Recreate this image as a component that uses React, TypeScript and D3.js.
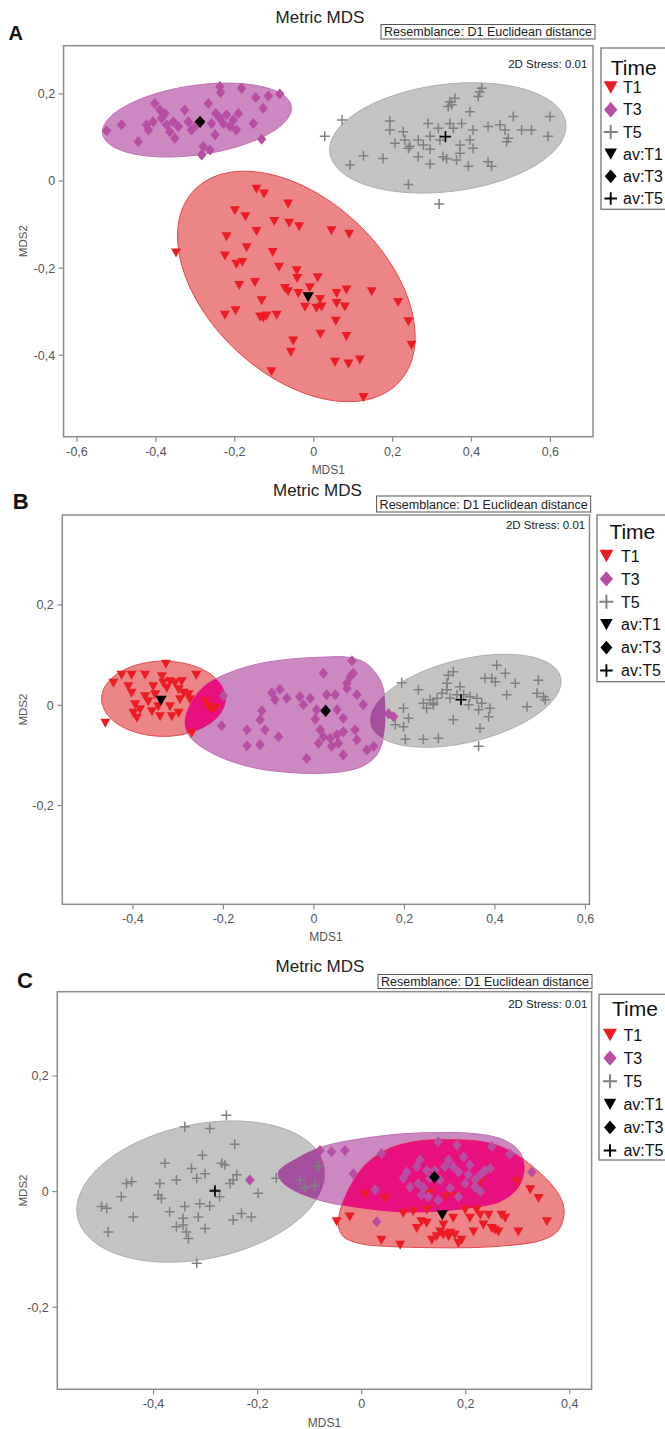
import React from 'react';
import * as d3 from 'd3';

type Pt = [number, number];

// ---------------- Panel A data ----------------
const A_T1: Pt[] = [
  [-0.349,-0.165],[-0.145,-0.019],[-0.126,-0.030],[-0.065,-0.053],[-0.200,-0.068],[-0.173,-0.082],[-0.100,-0.093],[-0.062,-0.097],[-0.037,-0.105],[-0.221,-0.128],[-0.145,-0.116],[0.045,-0.114],[0.090,-0.122],[-0.225,-0.172],[-0.170,-0.153],[-0.104,-0.164],[-0.196,-0.191],[-0.181,-0.187],[-0.088,-0.198],[-0.043,-0.206],[-0.042,-0.224],[0.010,-0.222],[-0.189,-0.240],[-0.149,-0.233],[-0.073,-0.247],[-0.065,-0.254],[-0.039,-0.258],[-0.010,-0.245],[0.058,-0.258],[0.083,-0.250],[0.147,-0.254],[-0.132,-0.275],[-0.225,-0.308],[-0.198,-0.298],[-0.136,-0.312],[-0.128,-0.315],[-0.120,-0.310],[-0.094,-0.308],[-0.022,-0.290],[0.007,-0.292],[0.016,-0.272],[0.020,-0.289],[0.058,-0.281],[0.079,-0.289],[0.214,-0.279],[0.240,-0.323],[0.056,-0.322],[-0.052,-0.367],[-0.058,-0.393],[0.017,-0.352],[0.083,-0.357],[0.054,-0.416],[0.088,-0.420],[0.117,-0.411],[-0.107,-0.438],[0.248,-0.377],[0.126,-0.497]
];
const A_T3: Pt[] = [
  [-0.525,0.116],[-0.487,0.129],[-0.445,0.090],[-0.419,0.117],[-0.407,0.136],[-0.403,0.178],[-0.390,0.163],[-0.377,0.155],[-0.373,0.129],[-0.365,0.113],[-0.352,0.098],[-0.343,0.125],[-0.327,0.163],[-0.318,0.136],[-0.310,0.117],[-0.280,0.079],[-0.284,0.060],[-0.267,0.178],[-0.263,0.071],[-0.250,0.106],[-0.248,0.155],[-0.238,0.144],[-0.229,0.132],[-0.221,0.152],[-0.212,0.125],[-0.204,0.140],[-0.196,0.117],[-0.191,0.155],[-0.183,0.213],[-0.238,0.217],[-0.236,0.203],[-0.153,0.132],[-0.147,0.192],[-0.128,0.167],[-0.132,0.096],[-0.115,0.195],[-0.086,0.200],[-0.356,0.136],[-0.424,0.129],[-0.297,0.129],[-0.259,0.132],[-0.386,0.144]
];
const A_T5: Pt[] = [
  [0.028,0.103],[0.072,0.140],[0.126,0.058],[0.092,0.037],[0.176,0.052],[0.240,-0.008],[0.318,-0.053],[0.193,0.138],[0.193,0.117],[0.227,0.113],[0.231,0.094],[0.206,0.087],[0.240,0.075],[0.244,0.080],[0.265,0.094],[0.265,0.056],[0.278,0.083],[0.295,0.073],[0.290,0.132],[0.295,0.103],[0.295,0.039],[0.316,0.121],[0.320,0.094],[0.328,0.056],[0.337,0.051],[0.345,0.132],[0.354,0.121],[0.345,0.182],[0.350,0.175],[0.341,0.171],[0.358,0.190],[0.362,0.048],[0.371,0.064],[0.371,0.083],[0.375,0.132],[0.396,0.159],[0.396,0.094],[0.404,0.117],[0.404,0.075],[0.392,0.034],[0.421,0.205],[0.426,0.213],[0.417,0.194],[0.442,0.125],[0.442,0.044],[0.451,0.034],[0.472,0.129],[0.485,0.117],[0.493,0.098],[0.489,0.090],[0.506,0.148],[0.527,0.117],[0.552,0.117],[0.599,0.148],[0.594,0.103]
];
const A_AVG_T1: Pt = [-0.014, -0.267];
const A_AVG_T3: Pt = [-0.288, 0.136];
const A_AVG_T5: Pt = [0.334, 0.102];
// ellipse: centre x, centre y, semi-axis vector u (x,y), semi-axis vector v (x,y)
const A_ELL_T1 = [-0.044, -0.242, 0.260, -0.220, -0.152, -0.147];
const A_ELL_T3 = [-0.296, 0.140, 0.239, 0.031, 0.012, -0.079];
const A_ELL_T5 = [0.340, 0.099, 0.299, 0.034, 0.017, -0.122];
const A_XTICKS = [-0.6, -0.4, -0.2, 0, 0.2, 0.4, 0.6];
const A_YTICKS = [-0.4, -0.2, 0, 0.2];

// ---------------- Panel B data ----------------
const B_T1: Pt[] = [
  [-0.461,-0.036],[-0.443,0.044],[-0.425,0.060],[-0.403,0.060],[-0.410,0.037],[-0.403,0.024],[-0.395,0.001],[-0.399,-0.016],[-0.391,-0.026],[-0.384,-0.009],[-0.373,0.060],[-0.373,0.017],[-0.366,0.007],[-0.351,0.021],[-0.344,-0.003],[-0.340,-0.023],[-0.336,0.057],[-0.333,0.044],[-0.325,0.034],[-0.318,0.047],[-0.318,-0.003],[-0.314,-0.023],[-0.307,0.044],[-0.299,0.031],[-0.296,0.011],[-0.299,-0.016],[-0.292,0.047],[-0.288,0.024],[-0.277,0.021],[-0.274,0.011],[-0.260,0.060],[-0.327,0.082],[-0.240,0.007],[-0.233,-0.003],[-0.226,-0.009],[-0.218,-0.006],[-0.270,-0.056],[-0.355,0.037],[-0.358,-0.013]
];
const B_T3: Pt[] = [
  [-0.200,0.019],[-0.204,-0.041],[-0.115,-0.011],[-0.119,-0.029],[-0.148,-0.049],[-0.108,-0.049],[-0.148,-0.081],[-0.119,-0.079],[-0.078,-0.063],[-0.093,0.025],[-0.075,0.032],[-0.086,0.011],[-0.060,0.014],[-0.031,0.017],[-0.023,0.001],[-0.008,0.014],[0.006,-0.009],[0.003,-0.028],[0.014,-0.049],[0.021,-0.063],[0.010,-0.076],[0.021,0.064],[0.028,0.021],[0.047,0.021],[0.051,-0.009],[0.051,-0.059],[0.065,-0.053],[0.054,-0.076],[0.039,-0.082],[0.065,-0.099],[-0.016,-0.106],[0.073,0.044],[0.080,0.057],[0.087,0.064],[0.073,0.034],[0.084,0.089],[0.095,0.021],[0.109,0.001],[0.091,-0.049],[0.095,-0.069],[0.117,-0.089],[0.132,-0.082],[0.065,-0.026],[0.036,-0.066],[0.165,-0.017],[0.176,-0.023]
];
const B_T5: Pt[] = [
  [0.194,0.045],[0.198,-0.006],[0.180,-0.039],[0.198,-0.043],[0.202,-0.068],[0.209,-0.026],[0.231,0.031],[0.242,0.004],[0.242,-0.068],[0.249,-0.006],[0.257,0.011],[0.264,0.004],[0.272,0.014],[0.275,-0.066],[0.283,0.024],[0.294,0.031],[0.294,0.044],[0.297,0.060],[0.308,0.067],[0.308,-0.029],[0.301,0.014],[0.316,0.021],[0.323,0.037],[0.342,0.001],[0.345,0.017],[0.360,0.014],[0.364,-0.009],[0.367,-0.046],[0.364,-0.082],[0.371,0.004],[0.378,0.054],[0.386,-0.023],[0.389,-0.006],[0.393,0.054],[0.401,0.047],[0.404,0.080],[0.423,0.064],[0.426,0.021],[0.445,0.044],[0.471,-0.003],[0.493,0.024],[0.496,0.050],[0.507,0.017],[0.511,0.011],[0.264,0.001],[0.331,0.021]
];
const B_AVG_T1: Pt = [-0.338, 0.009];
const B_AVG_T3: Pt = [0.026, -0.011];
const B_AVG_T5: Pt = [0.325, 0.011];
const B_ELL_T1 = [-0.332, 0.013, 0.137, 0, 0, -0.075];
const B_OUT_T3: Pt[] = [
  [-0.274,0.001],[-0.244,0.037],[-0.200,0.060],[-0.126,0.082],[-0.053,0.092],[0.021,0.096],[0.073,0.096],[0.113,0.085],[0.140,0.060],[0.154,0.031],[0.158,-0.016],[0.154,-0.063],[0.139,-0.099],[0.109,-0.121],[0.065,-0.132],[0.006,-0.136],[-0.053,-0.134],[-0.126,-0.126],[-0.200,-0.106],[-0.252,-0.081],[-0.277,-0.059],[-0.285,-0.033]
];
const B_ELL_T5 = [0.335, 0.009, 0.210, 0.047, 0.022, -0.080];
const B_XTICKS = [-0.4, -0.2, 0, 0.2, 0.4, 0.6];
const B_YTICKS = [-0.2, 0, 0.2];

// ---------------- Panel C data ----------------
const C_T1: Pt[] = [
  [-0.048,-0.052],[-0.023,-0.044],[0.006,-0.006],[0.045,-0.012],[0.038,-0.084],[0.074,-0.093],[0.099,-0.035],[0.106,-0.064],[0.115,-0.052],[0.125,-0.055],[0.131,-0.003],[0.135,-0.084],[0.144,-0.078],[0.151,-0.070],[0.157,-0.075],[0.163,-0.009],[0.167,-0.078],[0.170,-0.072],[0.179,-0.075],[0.183,-0.009],[0.186,-0.090],[0.192,-0.084],[0.208,-0.046],[0.215,-0.070],[0.221,-0.032],[0.228,-0.041],[0.234,-0.058],[0.244,-0.041],[0.250,-0.064],[0.256,-0.067],[0.263,-0.070],[0.269,-0.041],[0.276,-0.046],[0.301,-0.070],[0.298,0.017],[0.324,0.003],[0.340,-0.012],[0.356,-0.052],[0.228,0.017],[0.199,-0.032],[0.125,-0.032],[0.080,-0.038],[0.176,-0.046],[0.157,-0.058]
];
const C_T3: Pt[] = [
  [-0.215,0.020],[-0.080,0.071],[-0.058,0.069],[-0.032,0.071],[-0.016,0.031],[0.038,0.066],[0.026,0.003],[0.029,-0.052],[0.147,0.086],[0.183,0.080],[0.250,0.078],[0.285,0.065],[0.327,0.034],[0.112,0.055],[0.106,0.043],[0.087,0.034],[0.080,0.023],[0.093,0.008],[0.109,0.014],[0.119,0.006],[0.131,0.023],[0.125,0.037],[0.141,0.037],[0.151,0.020],[0.160,0.043],[0.167,0.055],[0.176,0.043],[0.186,0.034],[0.196,0.060],[0.208,0.046],[0.205,0.029],[0.199,0.014],[0.218,0.020],[0.228,0.029],[0.237,0.037],[0.247,0.040],[0.218,0.008],[0.186,-0.009],[0.147,-0.015],[0.128,-0.009],[0.115,-0.006],[0.170,0.006],[0.228,0.000]
];
const C_T5: Pt[] = [
  [-0.260,0.132],[-0.340,0.112],[-0.292,0.109],[-0.244,0.082],[-0.306,0.063],[-0.378,0.049],[-0.327,0.040],[-0.301,0.031],[-0.317,0.023],[-0.356,0.020],[-0.269,0.049],[-0.263,0.046],[-0.240,0.029],[-0.247,0.020],[-0.253,0.014],[-0.442,0.017],[-0.452,0.014],[-0.388,0.014],[-0.391,-0.006],[-0.385,-0.012],[-0.462,-0.009],[-0.282,0.003],[-0.273,-0.009],[-0.340,-0.026],[-0.311,-0.021],[-0.292,-0.025],[-0.369,-0.035],[-0.500,-0.026],[-0.490,-0.029],[-0.439,-0.044],[-0.343,-0.046],[-0.314,-0.044],[-0.343,-0.058],[-0.301,-0.064],[-0.356,-0.061],[-0.337,-0.070],[-0.333,-0.081],[-0.247,-0.049],[-0.231,-0.038],[-0.212,-0.044],[-0.199,-0.003],[-0.487,-0.070],[-0.164,0.023],[-0.119,0.020],[-0.083,0.044],[-0.109,0.007],[-0.090,0.010],[-0.317,-0.124]
];
const C_AVG_T1: Pt = [0.155, -0.041];
const C_AVG_T3: Pt = [0.140, 0.025];
const C_AVG_T5: Pt = [-0.282, 0.001];
const C_ELL_T5 = [-0.309, 0.000, 0.237, 0.044, 0.026, -0.114];
const C_OUT_T3: Pt[] = [
  [-0.160,0.034],[-0.125,0.057],[-0.074,0.078],[0.003,0.092],[0.080,0.100],[0.144,0.102],[0.208,0.101],[0.266,0.092],[0.298,0.075],[0.312,0.052],[0.311,0.026],[0.298,0.003],[0.266,-0.018],[0.208,-0.029],[0.144,-0.035],[0.080,-0.036],[0.016,-0.031],[-0.048,-0.022],[-0.099,-0.010],[-0.138,0.006],[-0.156,0.020]
];
const C_OUT_T1: Pt[] = [
  [-0.045,-0.058],[-0.039,-0.026],[-0.019,0.014],[0.010,0.049],[0.054,0.075],[0.112,0.088],[0.176,0.090],[0.234,0.086],[0.272,0.076],[0.304,0.060],[0.337,0.037],[0.369,0.008],[0.387,-0.021],[0.388,-0.046],[0.375,-0.070],[0.343,-0.085],[0.285,-0.093],[0.208,-0.097],[0.131,-0.097],[0.054,-0.095],[-0.003,-0.090],[-0.035,-0.078]
];
const C_XTICKS = [-0.4, -0.2, 0, 0.2, 0.4];
const C_YTICKS = [-0.2, 0, 0.2];

// ---------------- shared labels ----------------
const GROUPS = ['T1', 'T3', 'T5'];
const LEGEND_TITLE = 'Time';
const LEGEND_LABELS = ['T1', 'T3', 'T5', 'av:T1', 'av:T3', 'av:T5'];
const TITLE = 'Metric MDS';
const RESEMBLANCE = 'Resemblance: D1 Euclidean distance';
const STRESS = '2D Stress: 0.01';

// ---------------- styles ----------------
const FONT = '"Liberation Sans", Arial, sans-serif';
const COL = {
  T1: '#ed1c24', T3: '#b64fa3', T5: '#808080',
  fillT1: '#ec8585', fillT3: '#cc88c0', fillT5: '#c3c3c3',
  strokeT1: '#e0474b', strokeT3: '#bf70b3', strokeT5: '#adadad',
  pink: '#e8117f', darkPurple: '#a44f9e',
};

type Region = { key: string; ell?: number[]; out?: Pt[]; fill: string; stroke: string };
type Overlap = { a: string; b: string; fill: string };
type Leg = { x: number; y: number; bottom: number; mx: number; tx: number; timeX: number; timeY: number; row0: number; step: number };
type PanelCfg = {
  label: string; letter: { x: number; y: number; size: number };
  frame: { l: number; r: number; t: number; b: number };
  xDom: [number, number]; yDom: [number, number];
  xTicks: number[]; yTicks: number[];
  title: { x: number; y: number };
  res: { x0: number; x1: number; y0: number; y1: number; base: number };
  stress: { x: number; y: number };
  mds1Y: number;
  legend: Leg;
  regions: Region[];
  overlaps: Overlap[];
  series: { key: string; pts: Pt[] }[];
  avgs: { key: string; p: Pt }[];
};

const PANELS: PanelCfg[] = [
  {
    label: 'A', letter: { x: 8.5, y: 40, size: 20 },
    frame: { l: 63.6, r: 593, t: 45.7, b: 436.7 },
    xDom: [-0.634, 0.708], yDom: [-0.587, 0.3107],
    xTicks: A_XTICKS, yTicks: A_YTICKS,
    title: { x: 320, y: 23 },
    res: { x0: 381, x1: 595, y0: 24.5, y1: 39, base: 36.3 },
    stress: { x: 587.4, y: 68 },
    mds1Y: 474,
    legend: { x: 601, y: 48, bottom: 209.3, mx: 610.7, tx: 623, timeX: 610.7, timeY: 75, row0: 87.5, step: 22.2 },
    regions: [
      { key: 'T1', ell: A_ELL_T1, fill: COL.fillT1, stroke: COL.strokeT1 },
      { key: 'T3', ell: A_ELL_T3, fill: COL.fillT3, stroke: COL.strokeT3 },
      { key: 'T5', ell: A_ELL_T5, fill: COL.fillT5, stroke: COL.strokeT5 },
    ],
    overlaps: [],
    series: [{ key: 'T1', pts: A_T1 }, { key: 'T3', pts: A_T3 }, { key: 'T5', pts: A_T5 }],
    avgs: [{ key: 'T1', p: A_AVG_T1 }, { key: 'T3', p: A_AVG_T3 }, { key: 'T5', p: A_AVG_T5 }],
  },
  {
    label: 'B', letter: { x: 12.7, y: 509.3, size: 22 },
    frame: { l: 62.3, r: 589.5, t: 515, b: 904.3 },
    xDom: [-0.556, 0.609], yDom: [-0.397, 0.3795],
    xTicks: B_XTICKS, yTicks: B_YTICKS,
    title: { x: 317.4, y: 496 },
    res: { x0: 376.6, x1: 590.7, y0: 496, y1: 512, base: 508.8 },
    stress: { x: 585.2, y: 529 },
    mds1Y: 941,
    legend: { x: 597, y: 515, bottom: 681.7, mx: 606.4, tx: 621, timeX: 609.4, timeY: 539, row0: 556, step: 22.9 },
    regions: [
      { key: 'T1', ell: B_ELL_T1, fill: COL.fillT1, stroke: COL.strokeT1 },
      { key: 'T3', out: B_OUT_T3, fill: COL.fillT3, stroke: COL.strokeT3 },
      { key: 'T5', ell: B_ELL_T5, fill: COL.fillT5, stroke: COL.strokeT5 },
    ],
    overlaps: [{ a: 'T1', b: 'T3', fill: COL.pink }, { a: 'T5', b: 'T3', fill: COL.darkPurple }],
    series: [{ key: 'T1', pts: B_T1 }, { key: 'T3', pts: B_T3 }, { key: 'T5', pts: B_T5 }],
    avgs: [{ key: 'T1', p: B_AVG_T1 }, { key: 'T3', p: B_AVG_T3 }, { key: 'T5', p: B_AVG_T5 }],
  },
  {
    label: 'C', letter: { x: 17, y: 987.7, size: 22 },
    frame: { l: 57.3, r: 591.6, t: 991.7, b: 1389.3 },
    xDom: [-0.585, 0.442], yDom: [-0.342, 0.3457],
    xTicks: C_XTICKS, yTicks: C_YTICKS,
    title: { x: 320, y: 972 },
    res: { x0: 378, x1: 592, y0: 974.5, y1: 988.5, base: 985.6 },
    stress: { x: 587.4, y: 1008 },
    mds1Y: 1426.5,
    legend: { x: 599, y: 994.3, bottom: 1160, mx: 610, tx: 623.4, timeX: 612, timeY: 1016, row0: 1035, step: 23.1 },
    regions: [
      { key: 'T5', ell: C_ELL_T5, fill: COL.fillT5, stroke: COL.strokeT5 },
      { key: 'T3', out: C_OUT_T3, fill: COL.fillT3, stroke: COL.strokeT3 },
      { key: 'T1', out: C_OUT_T1, fill: COL.fillT1, stroke: COL.strokeT1 },
    ],
    overlaps: [{ a: 'T5', b: 'T3', fill: COL.darkPurple }, { a: 'T1', b: 'T3', fill: COL.pink }],
    series: [{ key: 'T5', pts: C_T5 }, { key: 'T1', pts: C_T1 }, { key: 'T3', pts: C_T3 }],
    avgs: [{ key: 'T1', p: C_AVG_T1 }, { key: 'T3', p: C_AVG_T3 }, { key: 'T5', p: C_AVG_T5 }],
  },
];

// ---------------- marker shapes ----------------
const tri = (x: number, y: number, w: number, h: number) =>
  `M${x - w / 2},${y - h / 2}L${x + w / 2},${y - h / 2}L${x},${y + h / 2}Z`;
const dia = (x: number, y: number, w: number, h: number) =>
  `M${x},${y - h / 2}L${x + w / 2},${y}L${x},${y + h / 2}L${x - w / 2},${y}Z`;
const plus = (x: number, y: number, s: number) =>
  `M${x - s / 2},${y}H${x + s / 2}M${x},${y - s / 2}V${y + s / 2}`;

function Marker({ k, x, y, color, big }: { k: string; x: number; y: number; color: string; big?: number }) {
  const s = big ?? 1;
  if (k === 'T1') return <path d={tri(x, y, 10 * s, 9 * s)} fill={color} />;
  if (k === 'T3') return <path d={dia(x, y, 9.5 * s, 11 * s)} fill={color} />;
  return <path d={plus(x, y, 10 * s)} stroke={color} strokeWidth={1.5 * Math.min(s, 1.3)} fill="none" />;
}

const fmt = (v: number) => (v === 0 ? '0' : String(v).replace('.', ','));

function Panel({ cfg }: { cfg: PanelCfg }) {
  const { frame: f } = cfg;
  const x = d3.scaleLinear().domain(cfg.xDom).range([f.l, f.r]);
  const y = d3.scaleLinear().domain(cfg.yDom).range([f.b, f.t]);

  const regionPath = (r: Region): string => {
    if (r.ell) {
      const [cx, cy, ux, uy, vx, vy] = r.ell;
      const pts: Pt[] = d3.range(120).map((i) => {
        const t = (i / 120) * 2 * Math.PI;
        return [x(cx + ux * Math.cos(t) + vx * Math.sin(t)), y(cy + uy * Math.cos(t) + vy * Math.sin(t))];
      });
      return d3.line().curve(d3.curveLinearClosed)(pts) || '';
    }
    return (
      d3
        .line<Pt>()
        .x((p) => x(p[0]))
        .y((p) => y(p[1]))
        .curve(d3.curveCatmullRomClosed.alpha(0.5))(r.out || []) || ''
    );
  };
  const byKey: Record<string, string> = {};
  cfg.regions.forEach((r) => (byKey[r.key] = regionPath(r)));
  const colorOf = (k: string) => (COL as any)[k] as string;

  const L = cfg.legend;
  const midY = (f.t + f.b) / 2;
  const midX = (f.l + f.r) / 2;

  return (
    <g fontFamily={FONT}>
      <text x={cfg.letter.x} y={cfg.letter.y} fontSize={cfg.letter.size} fontWeight="bold" fill="#111">
        {cfg.label}
      </text>
      <text x={cfg.title.x} y={cfg.title.y} fontSize={17} textAnchor="middle" fill="#222">
        {TITLE}
      </text>
      <rect x={cfg.res.x0} y={cfg.res.y0} width={cfg.res.x1 - cfg.res.x0} height={cfg.res.y1 - cfg.res.y0}
        fill="white" stroke="#555" strokeWidth={1} />
      <text x={(cfg.res.x0 + cfg.res.x1) / 2} y={cfg.res.base} fontSize={12.5} textAnchor="middle" fill="#222"
        textLength={cfg.res.x1 - cfg.res.x0 - 6} lengthAdjust="spacingAndGlyphs">
        {RESEMBLANCE}
      </text>

      <defs>
        {cfg.overlaps.map((o) => (
          <clipPath key={o.a + o.b} id={`clip-${cfg.label}-${o.a}-${o.b}`}>
            <path d={byKey[o.a]} />
          </clipPath>
        ))}
        <clipPath id={`frame-${cfg.label}`}>
          <rect x={f.l} y={f.t} width={f.r - f.l} height={f.b - f.t} />
        </clipPath>
      </defs>

      <g clipPath={`url(#frame-${cfg.label})`}>
        {cfg.regions.map((r) => (
          <path key={r.key} d={byKey[r.key]} fill={r.fill} stroke={r.stroke} strokeWidth={1} />
        ))}
        {cfg.overlaps.map((o) => (
          <path key={o.a + o.b} d={byKey[o.b]} fill={o.fill} clipPath={`url(#clip-${cfg.label}-${o.a}-${o.b})`} />
        ))}
        {cfg.series.map((s) =>
          s.pts.map((p, i) => (
            <Marker key={s.key + i} k={s.key} x={x(p[0])} y={y(p[1])} color={colorOf(s.key)} />
          ))
        )}
        {cfg.avgs.map((a) => (
          <Marker key={'av' + a.key} k={a.key} x={x(a.p[0])} y={y(a.p[1])} color="#000" big={1.12} />
        ))}
      </g>

      <rect x={f.l} y={f.t} width={f.r - f.l} height={f.b - f.t} fill="none" stroke="#8a8a8a" strokeWidth={1.5} />
      <text x={cfg.stress.x} y={cfg.stress.y} fontSize={11.5} textAnchor="end" fill="#222">
        {STRESS}
      </text>

      {cfg.xTicks.map((t) => (
        <g key={'x' + t}>
          <line x1={x(t)} x2={x(t)} y1={f.b} y2={f.b + 5} stroke="#8a8a8a" strokeWidth={1.2} />
          <text x={x(t)} y={f.b + 19} fontSize={12.5} textAnchor="middle" fill="#555">
            {fmt(t)}
          </text>
        </g>
      ))}
      {cfg.yTicks.map((t) => (
        <g key={'y' + t}>
          <line x1={f.l - 5} x2={f.l} y1={y(t)} y2={y(t)} stroke="#8a8a8a" strokeWidth={1.2} />
          <text x={f.l - 8.5} y={y(t)} dy="0.35em" fontSize={12.5} textAnchor="end" fill="#555">
            {fmt(t)}
          </text>
        </g>
      ))}
      <text x={midX} y={cfg.mds1Y} fontSize={12} textAnchor="middle" fill="#555">MDS1</text>
      <text transform={`translate(23.3,${midY}) rotate(-90)`} dy="0.35em" fontSize={11.5} textAnchor="middle" fill="#555">
        MDS2
      </text>

      <rect x={L.x} y={L.y} width={80} height={L.bottom - L.y} fill="white" stroke="#777" strokeWidth={1.3} />
      <text x={L.timeX} y={L.timeY} fontSize={21} fill="#111">{LEGEND_TITLE}</text>
      {LEGEND_LABELS.map((lab, i) => {
        const cy = L.row0 + i * L.step;
        const g = GROUPS[i % 3];
        const isAv = i >= 3;
        return (
          <g key={lab}>
            <Marker k={g} x={L.mx} y={cy} color={isAv ? '#000' : colorOf(g)} big={isAv ? 1.25 : 1.4} />
            <text x={L.tx} y={cy} dy="0.36em" fontSize={16} fill="#111">{lab}</text>
          </g>
        );
      })}
    </g>
  );
}

export default function App() {
  return (
    <svg width={665} height={1429} style={{ position: 'absolute', left: 0, top: 0, background: 'white' }}>
      <rect x={0} y={0} width={665} height={1429} fill="white" />
      {PANELS.map((p) => (
        <Panel key={p.label} cfg={p} />
      ))}
    </svg>
  );
}
